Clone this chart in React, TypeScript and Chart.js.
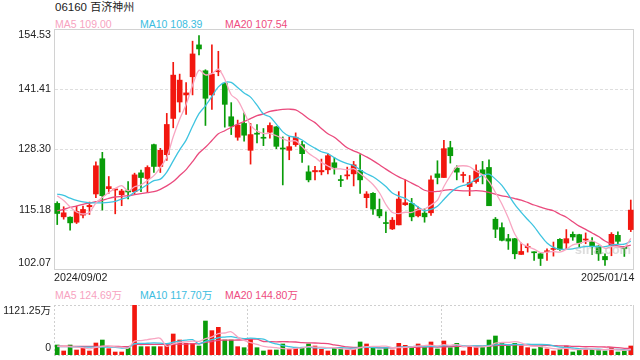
import React, { useEffect, useRef } from "react";
import { Chart, registerables } from "chart.js";

Chart.register(...registerables);

// ---------- data ----------
const stockTitle = "06160 百济神州";
const startDate = "2024/09/02";
const endDate = "2025/01/14";
const priceTicks = [154.53, 141.41, 128.3, 115.18, 102.07];
const volumeTickLabels = ["1121.25万", "0"];
const volumeMax = 1121.25;
const priceLegend = ["MA5 109.00", "MA10 108.39", "MA20 107.54"];
const volumeLegend = ["MA5 124.69万", "MA10 117.70万", "MA20 144.80万"];
const watermark = "sina.com";

const opens = [
  116.57, 113.64, 113.57, 112.47, 114.01, 115.84, 118.62, 126.29, 119.78, 119.49,
  118.47, 119.35, 119.13, 123.22, 121.98, 129.36, 124.61, 127.17, 135.06, 138.64,
  140.18, 144.13, 151.07, 145.44, 140.18, 145.22, 142.74, 135.43, 130.97, 133.97,
  128.12, 131.77, 130.9, 132.06, 133.23, 128.56, 128.12, 129.36, 129.36, 123.44,
  123.44, 123.44, 123.88, 125.41, 121.69, 122.56, 123.0, 123.73, 117.81, 118.76,
  115.25, 112.33, 111.01, 111.89, 116.28, 116.57, 113.86, 114.45, 114.52, 123.0,
  122.2, 128.7, 124.24, 122.64, 120.22, 121.32, 123.88, 124.39, 113.13, 111.3,
  108.89, 108.89, 105.46, 106.92, 105.97, 105.6, 106.04, 106.55, 108.75, 107.94,
  109.84, 109.77, 108.6, 108.23, 107.28, 105.02, 107.43, 109.62, 107.07, 110.87,
];
const highs = [
  116.93, 115.84, 113.65, 115.98, 115.98, 116.86, 125.63, 127.68, 122.42, 119.78,
  119.64, 121.32, 123.15, 123.8, 124.76, 129.5, 128.56, 136.16, 147.27, 144.71,
  142.88, 151.88, 153.12, 145.66, 151.07, 149.68, 142.9, 138.5, 134.7, 136.3,
  133.97, 133.75, 132.87, 134.11, 133.3, 131.04, 131.04, 131.92, 130.09, 124.76,
  124.61, 126.22, 127.39, 126.58, 122.64, 124.46, 125.71, 127.17, 119.13, 118.9,
  117.52, 114.74, 113.5, 119.13, 121.69, 117.66, 115.84, 115.4, 122.56, 125.85,
  130.31, 130.09, 124.76, 123.37, 122.64, 124.97, 125.71, 126.07, 113.5, 112.33,
  109.84, 108.95, 107.94, 107.79, 106.05, 105.7, 106.7, 108.16, 108.89, 110.87,
  110.36, 109.85, 110.14, 109.11, 107.35, 105.6, 110.21, 110.36, 107.15, 117.3,
];
const lows = [
  111.96, 113.13, 110.72, 112.18, 113.43, 114.16, 117.81, 115.11, 118.76, 114.3,
  116.06, 117.52, 118.61, 119.13, 118.98, 123.29, 123.29, 125.93, 133.02, 136.45,
  135.94, 140.18, 148.88, 133.53, 137.04, 144.35, 133.16, 131.55, 130.31, 130.09,
  125.12, 129.73, 129.14, 130.75, 128.48, 120.59, 126.07, 128.99, 125.49, 121.25,
  121.69, 122.78, 123.0, 122.93, 120.22, 121.83, 120.37, 118.76, 115.62, 114.16,
  113.43, 110.21, 110.87, 111.89, 116.13, 112.77, 113.64, 112.47, 113.94, 120.81,
  122.2, 125.34, 121.69, 121.17, 118.25, 120.95, 120.81, 116.06, 109.11, 108.38,
  106.55, 104.51, 105.46, 105.97, 104.14, 103.04, 104.14, 105.09, 106.33, 106.7,
  108.53, 107.07, 107.79, 105.46, 104.14, 103.04, 105.17, 107.79, 105.02, 110.43,
];
const closes = [
  114.37, 114.52, 112.33, 114.81, 115.25, 116.13, 124.76, 118.25, 120.22, 119.64,
  119.27, 119.05, 122.78, 122.2, 124.39, 124.61, 128.12, 133.75, 144.49, 143.4,
  140.62, 149.1, 150.19, 139.45, 144.71, 145.44, 138.13, 133.38, 133.6, 131.41,
  131.55, 131.63, 130.75, 133.53, 128.99, 128.41, 128.92, 130.97, 127.39, 121.69,
  123.73, 123.73, 126.95, 124.39, 121.54, 122.78, 124.97, 121.69, 118.61, 115.33,
  113.86, 112.18, 112.91, 117.52, 116.71, 113.64, 115.25, 113.64, 121.69, 122.2,
  128.48, 126.95, 123.37, 122.78, 121.1, 123.66, 123.0, 116.06, 110.94, 108.53,
  108.38, 105.6, 106.11, 107.21, 105.82, 104.58, 106.19, 106.7, 106.55, 108.89,
  109.26, 107.94, 108.75, 107.21, 105.6, 104.29, 109.84, 108.31, 106.7, 115.11,
];
const ma5 = [
  118.2, 117.2, 115.8, 114.7, 114.26, 114.61, 116.66, 117.84, 118.92, 119.8,
  120.43, 119.29, 120.19, 120.59, 121.54, 122.61, 124.42, 126.61, 131.07, 134.87,
  138.08, 142.27, 145.56, 144.55, 144.81, 145.78, 143.58, 140.22, 139.05, 136.39,
  133.61, 132.31, 131.79, 131.77, 131.29, 130.66, 130.12, 130.16, 128.94, 127.48,
  126.54, 125.5, 124.7, 124.1, 124.07, 123.88, 124.13, 123.07, 121.92, 120.68,
  118.89, 116.33, 114.58, 114.36, 114.64, 114.59, 115.21, 115.35, 116.19, 117.28,
  120.25, 122.59, 124.54, 124.76, 124.54, 123.57, 122.78, 121.32, 118.95, 116.44,
  113.38, 109.9, 107.91, 107.17, 106.62, 105.86, 105.98, 106.1, 105.97, 106.58,
  107.52, 107.87, 108.28, 108.41, 107.75, 106.76, 107.14, 107.05, 106.95, 108.95,
];
const ma10 = [
  118.6, 118.3, 117.7, 117.2, 116.9, 116.7, 116.7, 116.7, 116.8, 117.03,
  117.52, 117.97, 119.02, 119.76, 120.67, 121.52, 121.85, 123.4, 125.83, 128.21,
  130.34, 133.35, 136.09, 137.81, 139.84, 141.93, 142.93, 142.89, 141.8, 140.6,
  139.7, 137.95, 136.01, 135.41, 133.84, 132.14, 131.22, 130.98, 130.36, 129.38,
  128.6, 127.81, 127.43, 126.52, 125.77, 125.21, 124.81, 123.89, 123.01, 122.37,
  121.39, 120.23, 118.83, 118.14, 117.66, 116.74, 115.77, 114.97, 115.27, 115.96,
  117.42, 118.9, 119.95, 120.47, 120.91, 121.91, 122.69, 122.93, 121.85, 120.49,
  118.48, 116.34, 114.62, 113.06, 111.53, 109.62, 107.94, 107.01, 106.57, 106.6,
  106.69, 106.93, 107.19, 107.19, 107.17, 107.14, 107.5, 107.66, 107.68, 108.35,
];
const ma20 = [
  114.96, 115.25, 115.69, 115.98, 116.35, 116.64, 116.93, 117.23, 117.66, 117.96,
  118.1, 118.25, 118.47, 118.69, 118.91, 119.13, 119.64, 120.37, 121.32, 122.62,
  123.93, 125.66, 127.55, 128.78, 130.26, 131.72, 132.39, 133.15, 133.82, 134.4,
  135.02, 135.65, 136.05, 136.61, 136.84, 137.03, 137.07, 136.93, 136.08, 134.99,
  134.15, 132.88, 131.72, 130.97, 129.81, 128.67, 128.02, 127.43, 126.68, 125.88,
  124.99, 124.02, 123.13, 122.33, 121.71, 120.98, 120.29, 119.43, 119.14, 119.17,
  119.4, 119.56, 119.39, 119.31, 119.28, 119.33, 119.23, 118.95, 118.56, 118.22,
  117.95, 117.62, 117.28, 116.77, 116.22, 115.77, 115.31, 114.97, 114.21, 113.55,
  112.58, 111.63, 110.9, 110.12, 109.35, 108.38, 107.72, 107.34, 107.12, 107.5,
];
const volumes = [
  224, 90, 224, 112, 172, 90, 269, 336, 142, 67,
  67, 164, 1121, 187, 187, 187, 187, 224, 471, 336,
  262, 262, 202, 762, 546, 620, 336, 336, 187, 164,
  351, 164, 90, 112, 112, 247, 127, 150, 164, 247,
  202, 127, 90, 150, 150, 112, 127, 292, 247, 187,
  112, 164, 112, 262, 217, 164, 247, 172, 292, 135,
  314, 164, 262, 90, 187, 187, 187, 336, 426, 262,
  202, 262, 202, 164, 135, 187, 135, 90, 127, 202,
  67, 127, 127, 127, 127, 90, 164, 67, 90, 202,
];
const vma5 = [
  200, 190, 190, 175, 164, 138, 173, 196, 202, 181,
  176, 155, 312, 321, 345, 369, 374, 194, 251, 281,
  296, 311, 307, 365, 407, 478, 493, 520, 405, 329,
  275, 240, 191, 176, 166, 145, 138, 150, 160, 187,
  178, 178, 166, 163, 144, 126, 126, 166, 186, 193,
  193, 200, 164, 167, 173, 184, 200, 212, 218, 202,
  232, 215, 233, 193, 203, 178, 183, 197, 265, 280,
  283, 298, 271, 218, 193, 190, 165, 142, 135, 148,
  124, 123, 130, 130, 115, 120, 127, 115, 108, 124.7,
];
const vma10 = [
  190, 190, 185, 180, 178, 175, 175, 178, 178, 173,
  157, 164, 254, 262, 263, 273, 265, 253, 286, 313,
  333, 342, 251, 308, 344, 387, 402, 413, 385, 368,
  377, 367, 356, 291, 247, 210, 189, 170, 168, 176,
  162, 158, 158, 162, 165, 152, 152, 166, 174, 168,
  159, 163, 165, 177, 183, 188, 200, 188, 193, 188,
  208, 208, 223, 206, 203, 205, 199, 215, 229, 242,
  230, 240, 234, 242, 236, 236, 231, 207, 177, 171,
  157, 144, 136, 132, 132, 122, 125, 123, 119, 117.7,
];
const vma20 = [
  200, 198, 196, 195, 195, 193, 193, 195, 195, 193,
  190, 190, 236, 236, 237, 238, 238, 238, 242, 243,
  245, 253, 252, 285, 303, 330, 333, 333, 336, 340,
  355, 355, 303, 299, 296, 299, 296, 292, 277, 272,
  269, 262, 257, 226, 206, 181, 170, 168, 171, 172,
  160, 160, 162, 169, 174, 170, 176, 177, 184, 178,
  184, 186, 194, 191, 193, 197, 200, 202, 211, 215,
  219, 224, 229, 224, 220, 221, 215, 211, 203, 206,
  194, 192, 185, 187, 184, 179, 178, 165, 148, 144.8,
];

// ---------- style ----------
const UP = "#f2170f";
const DOWN = "#099c09";
const C_MA5 = "#f8a6c2";
const C_MA10 = "#3ec4e0";
const C_MA20 = "#ea4a7d";
const LEGEND_COLORS = ["#f7a3bf", "#3bbde0", "#ee4c80"];
const GRID = "#dedede";
const FRAME = "#d2d2d2";
const TEXT = "#222";
const FONT = "'Liberation Sans', Arial, 'Noto Sans CJK SC', sans-serif";

const labels = closes.map((_, i) => String(i));
const colors = closes.map((c, i) => (c >= opens[i] ? UP : DOWN));

function lineDs(label: string, data: number[], color: string) {
  return {
    type: "line" as const,
    label,
    data,
    borderColor: color,
    backgroundColor: color,
    borderWidth: 1.3,
    pointRadius: 0,
    tension: 0.3,
    fill: false,
    order: 0,
  };
}

const mainDecor = {
  id: "mainDecor",
  beforeDatasetsDraw(chart: any) {
    const { ctx, chartArea: a, scales } = chart;
    ctx.save();
    ctx.lineWidth = 1;
    ctx.strokeStyle = GRID;
    ctx.setLineDash([3, 2]);
    priceTicks.slice(1, -1).forEach((v) => {
      const y = Math.round(scales.y.getPixelForValue(v)) + 0.5;
      ctx.beginPath();
      ctx.moveTo(a.left + 1, y);
      ctx.lineTo(a.right - 1, y);
      ctx.stroke();
    });
    ctx.setLineDash([]);
    ctx.strokeStyle = FRAME;
    ctx.strokeRect(a.left + 0.5, a.top + 0.5, a.right - a.left - 1, a.bottom - a.top - 1);
    ctx.restore();
  },
  afterDraw(chart: any) {
    const { ctx, chartArea: a, scales } = chart;
    ctx.save();
    ctx.fillStyle = TEXT;
    ctx.font = `10.7px ${FONT}`;
    ctx.textAlign = "right";
    ctx.textBaseline = "middle";
    priceTicks.forEach((v, k) => {
      let y = scales.y.getPixelForValue(v);
      if (k === 0) y = a.top + 6;
      if (k === priceTicks.length - 1) y = a.bottom - 6.5;
      ctx.fillText(v.toFixed(2), a.left - 3, y);
    });
    ctx.textAlign = "left";
    ctx.fillText(startDate, a.left, a.bottom + 8.5);
    ctx.textAlign = "right";
    ctx.fillText(endDate, a.right + 0.5, a.bottom + 8.5);
    ctx.font = `bold 13px ${FONT}`;
    ctx.fillStyle = "rgba(185,185,185,0.5)";
    ctx.textAlign = "center";
    ctx.fillText(watermark, a.right - 31, a.bottom - 20);
    ctx.restore();
  },
};

const volDecor = {
  id: "volDecor",
  beforeDatasetsDraw(chart: any) {
    const { ctx, chartArea: a } = chart;
    ctx.save();
    ctx.lineWidth = 1;
    ctx.strokeStyle = "#cfcfcf";
    ctx.setLineDash([2, 2]);
    const w = a.right - a.left;
    ctx.beginPath();
    ctx.moveTo(a.left, a.top + 0.5);
    ctx.lineTo(a.right, a.top + 0.5);
    ctx.moveTo(a.left + 0.5, a.top);
    ctx.lineTo(a.left + 0.5, a.bottom);
    [1, 2].forEach((k) => {
      const x = Math.round(a.left + (w * k) / 3) + 0.5;
      ctx.moveTo(x, a.top);
      ctx.lineTo(x, a.bottom);
    });
    ctx.moveTo(a.left, a.bottom + 0.5);
    ctx.lineTo(a.right, a.bottom + 0.5);
    ctx.stroke();
    ctx.setLineDash([]);
    ctx.strokeStyle = FRAME;
    ctx.beginPath();
    ctx.moveTo(a.right - 0.5, a.top);
    ctx.lineTo(a.right - 0.5, a.bottom);
    ctx.stroke();
    ctx.restore();
  },
  afterDraw(chart: any) {
    const { ctx, chartArea: a } = chart;
    ctx.save();
    ctx.fillStyle = TEXT;
    ctx.font = `10.5px ${FONT}`;
    ctx.textAlign = "right";
    ctx.textBaseline = "middle";
    ctx.fillText(volumeTickLabels[0], a.left - 3, a.top + 6);
    ctx.fillText(volumeTickLabels[1], a.left - 3, a.bottom - 7);
    ctx.restore();
  },
};

export default function App() {
  const mainRef = useRef<HTMLCanvasElement>(null);
  const volRef = useRef<HTMLCanvasElement>(null);

  useEffect(() => {
    const main = new Chart(mainRef.current as HTMLCanvasElement, {
      type: "bar",
      data: {
        labels,
        datasets: [
          lineDs("MA5", ma5, C_MA5),
          lineDs("MA10", ma10, C_MA10),
          lineDs("MA20", ma20, C_MA20),
          {
            type: "bar",
            label: "wick",
            data: lows.map((l, i) => [l, highs[i]]),
            backgroundColor: colors,
            borderWidth: 0,
            barThickness: 1,
            grouped: false,
            order: 2,
          } as any,
          {
            type: "bar",
            label: "body",
            data: opens.map((o, i) => [o, closes[i]]),
            backgroundColor: colors,
            borderWidth: 0,
            barThickness: 5,
            minBarLength: 1,
            grouped: false,
            order: 1,
          } as any,
        ],
      },
      options: {
        responsive: false,
        animation: false,
        events: [],
        layout: { padding: { left: 54, right: 6, top: 29, bottom: 90 } },
        plugins: { legend: { display: false }, tooltip: { enabled: false } },
        scales: {
          x: { type: "category", display: false, offset: true },
          y: { display: false, min: priceTicks[priceTicks.length - 1], max: priceTicks[0] },
        },
      },
      plugins: [mainDecor],
    });

    const vol = new Chart(volRef.current as HTMLCanvasElement, {
      type: "bar",
      data: {
        labels,
        datasets: [
          lineDs("VMA5", vma5, C_MA5),
          lineDs("VMA10", vma10, C_MA10),
          lineDs("VMA20", vma20, C_MA20),
          {
            type: "bar",
            label: "volume",
            data: volumes,
            backgroundColor: colors,
            borderWidth: 0,
            barThickness: 4,
            grouped: false,
            order: 1,
          } as any,
        ],
      },
      options: {
        responsive: false,
        animation: false,
        events: [],
        layout: { padding: { left: 54, right: 6, top: 305, bottom: 5 } },
        plugins: { legend: { display: false }, tooltip: { enabled: false } },
        scales: {
          x: { type: "category", display: false, offset: true },
          y: { display: false, min: 0, max: volumeMax },
        },
      },
      plugins: [volDecor],
    });

    return () => {
      main.destroy();
      vol.destroy();
    };
  }, []);

  const legendRow = (items: string[], top: number) =>
    items.map((t, k) => (
      <div
        key={t}
        style={{
          position: "absolute",
          left: 55 + k * 85,
          top,
          height: 14,
          lineHeight: "14px",
          fontSize: "10.5px",
          color: LEGEND_COLORS[k],
          whiteSpace: "nowrap",
        }}
      >
        {t}
      </div>
    ));

  const [code, name] = stockTitle.split(" ");

  return (
    <div
      style={{
        position: "fixed",
        left: 0,
        top: 0,
        width: 640,
        height: 360,
        background: "#fff",
        fontFamily: FONT,
        overflow: "hidden",
      }}
    >
      <div
        style={{
          position: "absolute",
          left: 55,
          top: 0,
          height: 14,
          lineHeight: "14px",
          fontSize: "11.5px",
          color: "#222",
          whiteSpace: "nowrap",
        }}
      >
        {code} <span style={{ fontSize: "11px" }}>{name}</span>
      </div>
      {legendRow(priceLegend, 17)}
      {legendRow(volumeLegend, 288)}
      <canvas ref={mainRef} width={640} height={360} style={{ position: "absolute", left: 0, top: 0 }} />
      <canvas ref={volRef} width={640} height={360} style={{ position: "absolute", left: 0, top: 0 }} />
    </div>
  );
}
